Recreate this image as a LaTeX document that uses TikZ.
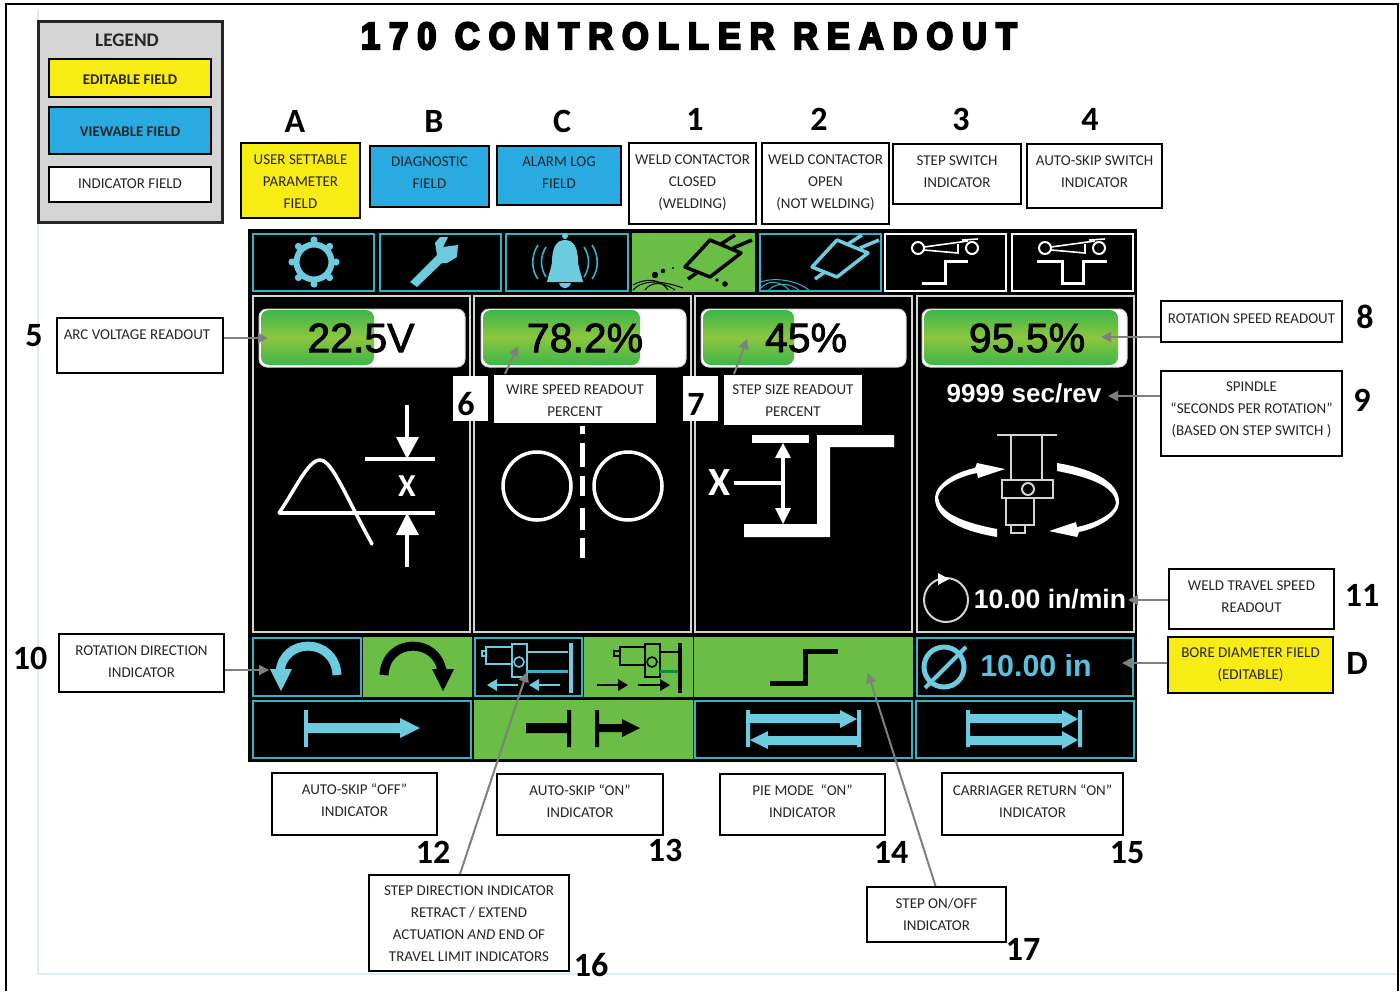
\documentclass[tikz,border=0pt]{standalone}
\usepackage{fontspec}
\setmainfont{Carlito}
\newfontfamily\arialf{Liberation Sans}
\newfontfamily\readf[FakeBold=2]{Liberation Sans}
\newfontfamily\titlef[LetterSpace=24,FakeBold=6,FakeStretch=0.9]{Liberation Sans Bold}
\usetikzlibrary{arrows.meta}
\definecolor{cy}{HTML}{6CCBDF}
\definecolor{cyb}{HTML}{35B3C4}
\definecolor{gr}{HTML}{6ABD45}
\definecolor{grd}{HTML}{3DB54A}
\definecolor{grm}{HTML}{8CC63F}
\definecolor{yel}{HTML}{F7EC13}
\definecolor{blu}{HTML}{29ABE2}
\definecolor{txt}{HTML}{262626}
\definecolor{lgr}{HTML}{D4D4D4}
\definecolor{conc}{HTML}{808080}
\definecolor{lblue}{HTML}{DCEBF7}
\definecolor{dgr}{HTML}{0F8A3C}
\tikzset{
  labelbox/.style={draw=black,line width=1pt,fill=white,inner sep=0pt,text=txt,
    font=\fontsize{7.5}{11}\selectfont},
  numlab/.style={font=\bfseries\fontsize{17}{17}\selectfont,inner sep=0pt,text=black},
  numbox/.style={font=\bfseries\fontsize{17}{17}\selectfont,inner sep=0pt,text=black,fill=white,minimum width=17.5pt,minimum height=22.5pt},
  conn/.style={draw=conc,line width=1pt,-{Triangle[width=5pt,length=5pt]}},
  cellc/.style={draw=cyb,line width=1pt,fill=black},
  cellw/.style={draw=white,line width=1pt,fill=black},
  cellg/.style={fill=gr},
  panelb/.style={draw=lgr,line width=1pt,fill=black},
  track/.style={fill=white,draw=lgr,line width=.5pt,rounded corners=4pt},
  bargr/.style={top color=grd,bottom color=grd,middle color=grm,rounded corners=4pt},
  readout/.style={font=\readf\fontsize{20.5}{20.5}\selectfont,inner sep=0pt,text=black},
  boldread/.style={font=\arialf\bfseries\fontsize{13}{13}\selectfont,inner sep=0pt,text=white},
  wl/.style={draw=white,line width=1.75pt},
  wt/.style={draw=white,line width=1pt},
}
\newcommand\lb[8]{%
  \pgfmathsetlengthmacro\lbw{(#4-#2)*0.5pt}%
  \pgfmathsetlengthmacro\lbh{(#5-#3)*0.5pt}%
  \pgfmathsetlengthmacro\lbdy{((#3+#5)/2-#7)*0.5pt-2.2pt}%
  \node[labelbox,#6,minimum width=\lbw,minimum height=\lbh] (#1) at ({(#2+#4)/2},{(#3+#5)/2})
    {\raisebox{\lbdy}[0pt][0pt]{\begin{tabular}[c]{@{}c@{}}#8\end{tabular}}};}
\newcommand\weld[1]{%
  \draw[#1,line width=1.75pt,line join=round] (837,240) -- (868,253) -- (837,277) -- (812,267) -- cycle;
  \draw[#1,line width=1.75pt] (848,244) -- (862,235) (860,248) -- (879,240) (825,272) -- (815,279);}
\newcommand\swhead[1]{%
  \begin{scope}[shift={(#1,0)}]
  \draw[wt] (918,248) circle[radius=6] (972,248) circle[radius=6];
  \draw[wt,line width=.8pt] (924,247) -- (968,241) (924,250) -- (958,253) -- (958,244) (962,240) -- (978,239);
  \end{scope}}
\begin{document}
\begin{tikzpicture}[x=0.5pt,y=-0.5pt,line cap=butt]
\useasboundingbox (0,0) rectangle (1400,991);
\fill[white] (0,0) rectangle (1400,991);
% page frame
\draw[lblue,line width=.8pt] (38,10) -- (38,974) -- (1397,974);
\draw[black,line width=1pt] (6,991) -- (6,4) -- (1397.5,4) -- (1397.5,991);
% title
\node[inner sep=0pt,font=\titlef\fontsize{19}{19}\selectfont,text=black] (title) at (689,36) {170 CONTROLLER READOUT};
% legend
\node[draw=black!85,line width=1.5pt,fill=lgr,minimum width=92pt,minimum height=100.5pt,inner sep=0pt] (legend) at (130,121.5) {};
\node[inner sep=0pt,font=\bfseries\fontsize{9.6}{10}\selectfont,text=txt] (legtitle) at (127,40) {LEGEND};
\lb{legE}{49}{59}{211}{97}{fill=yel,font=\bfseries\fontsize{7.4}{11}\selectfont,text=black!85}{79}{EDITABLE FIELD}
\lb{legV}{49}{107}{211}{154}{fill=blu,font=\bfseries\fontsize{7.4}{11}\selectfont,text=black!85}{131}{VIEWABLE FIELD}
\lb{legI}{49}{167}{211}{202}{}{183}{INDICATOR FIELD}
% top labels
\lb{boxA}{241}{143}{360}{218}{fill=yel,line width=1.25pt}{181}{USER SETTABLE\\PARAMETER\\FIELD}
\lb{boxB}{370}{146}{489}{207}{fill=blu,line width=1.25pt}{172}{DIAGNOSTIC\\FIELD}
\lb{boxC}{497}{146}{621}{205}{fill=blu,line width=1.25pt}{172}{ALARM LOG\\FIELD}
\lb{box1}{629}{143}{756}{224}{}{181}{WELD CONTACTOR\\CLOSED\\(WELDING)}
\lb{box2}{762}{143}{889}{224}{}{181}{WELD CONTACTOR\\OPEN\\(NOT WELDING)}
\lb{box3}{893}{144}{1021}{204}{}{171}{STEP SWITCH\\INDICATOR}
\lb{box4}{1027}{144}{1162}{208}{}{171}{AUTO-SKIP SWITCH\\INDICATOR}
\node[numlab] (nA) at (295,121) {A};
\node[numlab] (nB) at (434,121) {B};
\node[numlab] (nC) at (562,121) {C};
\node[numlab] (n1) at (695,119) {1};
\node[numlab] (n2) at (819,119) {2};
\node[numlab] (n3) at (961,119) {3};
\node[numlab] (n4) at (1090,119) {4};
% controller panel
\fill[black] (248,229) rectangle (1137,762);
\draw[cellc] (252.5,233.5) rectangle (374,291);
\draw[cellc] (379.5,233.5) rectangle (500.5,291);
\draw[cellc] (506,233.5) rectangle (627.5,291);
\fill[cellg] (631.5,233) rectangle (755,291.5);
\draw[cellc] (759.5,233.5) rectangle (881,291);
\draw[cellw] (885,233.5) rectangle (1006,291);
\draw[cellw] (1012,233.5) rectangle (1133,291);
% gear
\draw[cy,line width=3pt] (314,262) circle[radius=17.5];
\foreach \a in {0,45,...,315} {\fill[cy] (314,262) ++(\a:22) circle[radius=3.6];}
% wrench
\fill[cy,line join=round] (448,237) -- (443,247) -- (458,245) -- (457,257) -- (447,263) -- (442,263) -- (417,287) -- (410,282) -- (437,255) -- (435,243) -- (440,237) -- cycle;
% bell
\fill[cy] (565,236) circle[radius=3];
\fill[cy] (552,262) .. controls (552,248) and (556,240) .. (565,240) .. controls (574,240) and (578,248) .. (578,262) .. controls (579,270) and (582,276) .. (583,282) -- (547,282) .. controls (548,276) and (551,270) .. (552,262) -- cycle;
\fill[cy] (559,283) .. controls (561,290) and (569,290) .. (571,283) -- cycle;
\draw[cyb,line width=.8pt] (538,245) .. controls (531,255) and (531,270) .. (538,279)
  (546,247) .. controls (540,256) and (540,268) .. (546,277)
  (592,245) .. controls (599,255) and (599,270) .. (592,279)
  (584,247) .. controls (590,256) and (590,268) .. (584,277);
% welding closed
\begin{scope}
\clip (632,233) rectangle (755,291);
\begin{scope}[shift={(-127,0)}]\weld{black}\end{scope}
\fill[black] (655,275) circle[radius=3.2] (663,271) circle[radius=2.2] (673,268) circle[radius=1.2] (717,280) circle[radius=1.8] (725,284) circle[radius=2.8];
\draw[black,line width=.5pt] (633,290) .. controls (640,282) and (655,278) .. (683,288)
  (633,285) .. controls (645,278) and (660,278) .. (668,290) (645,290) .. controls (650,283) and (660,280) .. (675,290);
\end{scope}
% welding open
\begin{scope}
\clip (760,234) rectangle (881,291);
\weld{cy}
\draw[cyb,line width=.5pt] (761,282) .. controls (770,278) and (795,278) .. (810,291)
  (761,288) .. controls (768,280) and (780,280) .. (790,291)
  (768,291) .. controls (775,282) and (790,282) .. (800,291);
\end{scope}
% step switch
\swhead{0}
\draw[wl,line width=1.5pt] (922,283) -- (945,283) -- (945,261) -- (968,261);
\swhead{127}
\draw[wl,line width=1.5pt] (1037,261) -- (1062,261) -- (1062,283) -- (1083,283) -- (1083,261) -- (1107,261);
% four readout panels
\draw[panelb] (252.5,296) rectangle (469.5,632);
\draw[panelb] (474,296) rectangle (691,632);
\draw[panelb] (695,296) rectangle (912,632);
\draw[panelb] (917,296) rectangle (1134,632);
\filldraw[track] (259,309) rectangle (465,367);
\shade[bargr] (261,310) rectangle (374,365);
\filldraw[track] (481,309) rectangle (686,367);
\shade[bargr] (483,310) rectangle (640,365);
\filldraw[track] (701,309) rectangle (906,367);
\shade[bargr] (703,310) rectangle (794,365);
\filldraw[track] (922,309) rectangle (1127,367);
\shade[bargr] (924,310) rectangle (1118,365);
\node[readout] (r1) at (361,338) {22.5V};
\node[readout] (r2) at (585,338) {78.2\%};
\node[readout] (r3) at (806,338) {45\%};
\node[readout] (r4) at (1027,338) {95.5\%};
\node[boldread] (sec) at (1024,393) {9999 sec/rev};
\node[boldread,font=\arialf\bfseries\fontsize{13.3}{13.3}\selectfont] (trav) at (1050,599) {10.00 in/min};
% panel 1 graphic
\draw[wl] (365,459) -- (435,459) (279,513) -- (435,513);
\draw[wl,line join=round,line cap=round] (279,513) .. controls (295,490) and (308,460) .. (320,460) .. controls (332,460) and (345,495) .. (372,544);
\draw[wl] (407,405) -- (407,440) (407,567) -- (407,535);
\fill[white] (396,437) -- (419,437) -- (407,459) -- cycle (396,535) -- (419,535) -- (407,513) -- cycle;
\node[inner sep=0pt,text=white,font=\bfseries\fontsize{16}{16}\selectfont] (xa) at (407,486) {X};
% panel 2 graphic
\draw[wl] (537,486) circle[radius=34] (628,486) circle[radius=34];
\draw[white,line width=2.5pt] (582,426) -- (582,434) (582,443) -- (582,467) (582,476) -- (582,496) (582,508) -- (582,530) (582,538) -- (582,558);
% panel 3 graphic
\fill[white] (752,435) rectangle (809,443);
\fill[white] (817,435) -- (894,435) -- (894,447) -- (830,447) -- (830,537) -- (744,537) -- (744,524) -- (817,524) -- cycle;
\draw[wl] (783,455) -- (783,512) (734,483) -- (783,483);
\fill[white] (775,458) -- (791,458) -- (783,443) -- cycle (775,508) -- (791,508) -- (783,524) -- cycle;
\node[inner sep=0pt,text=white,font=\bfseries\fontsize{20}{20}\selectfont] (xb) at (720,483) {X};
% panel 4 graphic
\draw[wt,lgr] (997,435) -- (1057,435);
\draw[wt,lgr] (1011,435) -- (1011,480) (1042,435) -- (1042,480);
\draw[wt,lgr] (1002,480) rectangle (1053,498);
\draw[wt,lgr] (1028,489) circle[radius=6];
\draw[wt,lgr] (1006,498) rectangle (1034,525) (1011,525) rectangle (1025,533);
\fill[white] (997,537) .. controls (955,530) and (934,515) .. (935,497) .. controls (936,484) and (955,472) .. (975,468) -- (977,463) -- (1005,469) -- (978,478) -- (977,473) .. controls (957,477) and (939,487) .. (938,497) .. controls (939,512) and (960,522) .. (997,529) -- cycle;
\begin{scope}[rotate around={180:(1027,500)}]
\fill[white] (997,537) .. controls (955,530) and (934,515) .. (935,497) .. controls (936,484) and (955,472) .. (975,468) -- (977,463) -- (1005,469) -- (978,478) -- (977,473) .. controls (957,477) and (939,487) .. (938,497) .. controls (939,512) and (960,522) .. (997,529) -- cycle;
\end{scope}
\draw[wt,lgr] (946,600) circle[radius=22];
\fill[white] (938,573) -- (938,585) -- (949,579) -- cycle;
% row 1
\draw[cellc] (253,638) rectangle (361,696);
\fill[cellg] (363,637) rectangle (472,697);
\draw[cellc] (475,638) rectangle (582,696);
\fill[cellg] (584,637) rectangle (693,697);
\fill[cellg] (693.5,637) rectangle (912.5,697);
\draw[cellc] (916.5,638) rectangle (1133,696);
% rotation arrows
\draw[cy,line width=4.5pt] (337,675) .. controls (335,637) and (283,637) .. (280,672);
\fill[cy] (270,669) -- (292,669) -- (281,691) -- cycle;
\draw[black,line width=4.5pt] (384,675) .. controls (386,637) and (438,637) .. (442,672);
\fill[black] (432,669) -- (454,669) -- (443,691) -- cycle;
% step direction retract
\draw[cy,line width=.8pt] (486,647) rectangle (512,664) (482,651) rectangle (486,656) (512,644) rectangle (527,677) (519,662) circle[radius=5] (527,652) -- (568,652);
\draw[cyb,line width=1.5pt] (527,671) -- (568,671);
\draw[cy,line width=2pt] (571,643) -- (571,693);
\draw[cy,line width=1.25pt] (518,685) -- (492,685) (560,685) -- (534,685);
\fill[cy] (487,685) -- (497,679) -- (497,691) -- cycle (529,685) -- (539,679) -- (539,691) -- cycle;
% step direction extend
\draw[black,line width=.8pt] (620,647) rectangle (645,665) (614,651) rectangle (620,656) (645,644) rectangle (660,677) (652,662) circle[radius=5] (660,652) -- (680,652);
\draw[dgr,line width=1.5pt] (660,671) -- (680,671);
\draw[black,line width=1.75pt] (680,643) -- (680,693);
\draw[black,line width=1pt] (597,685) -- (622,685) (638,685) -- (664,685);
\fill[black] (628,685) -- (618,679) -- (618,691) -- cycle (670,685) -- (660,679) -- (660,691) -- cycle;
% step on/off
\draw[black,line width=2.5pt] (770,683) -- (805,683) -- (805,651) -- (838,651);
% bore
\draw[cy,line width=2.5pt] (944,667) circle[radius=20];
\draw[cy,line width=2pt] (925,688) -- (966,647);
\node[inner sep=0pt,font=\arialf\bfseries\fontsize{15.2}{15.2}\selectfont,text=cy!70!blu] (bore) at (1036,666) {10.00 in};
% row 2
\draw[cellc] (253,700.5) rectangle (471,758);
\fill[cellg] (474,700) rectangle (692.5,759);
\draw[cellc] (695,700.5) rectangle (912,758);
\draw[cellc] (916,700.5) rectangle (1134,758);
% auto-skip off
\fill[cy] (304,710) rectangle (308,747);
\fill[cy] (308,723) -- (400,723) -- (400,718) -- (420,728) -- (400,738) -- (400,733) -- (308,733) -- cycle;
% auto-skip on
\fill[black] (526,723) rectangle (567,733) (567,710) rectangle (571,747);
\fill[black] (595,710) rectangle (599,747) (599,724) -- (622,724) -- (622,719) -- (640,728) -- (622,737) -- (622,732) -- (599,732) -- cycle;
% pie mode
\fill[cy] (746,710) rectangle (750,747) (857,710) rectangle (861,747);
\fill[cy] (750,714) -- (840,714) -- (840,710) -- (857,719) -- (840,728) -- (840,723) -- (750,723) -- cycle;
\fill[cy] (857,736) -- (768,736) -- (768,731) -- (750,740) -- (768,749) -- (768,745) -- (857,745) -- cycle;
% carriage return
\fill[cy] (966,710) rectangle (970,747) (1078,710) rectangle (1082,747);
\fill[cy] (970,714) -- (1062,714) -- (1062,710) -- (1078,719) -- (1062,728) -- (1062,723) -- (970,723) -- cycle;
\fill[cy] (970,736) -- (1062,736) -- (1062,731) -- (1078,740) -- (1062,749) -- (1062,745) -- (970,745) -- cycle;
% tips of connectors
\coordinate (t5) at (268,338);
\coordinate (t6) at (518,346);
\coordinate (t7) at (747,339);
\coordinate (t8) at (1101,337);
\coordinate (t9) at (1108,396);
\coordinate (t11) at (1128,600);
\coordinate (tD) at (1122,663);
\coordinate (t10) at (269,670);
\coordinate (t16) at (527,672);
\coordinate (t17) at (868,673);
% labels around
\lb{box5}{57}{318}{223}{373}{}{334}{ARC VOLTAGE READOUT\hspace*{3pt}}
\node[numlab] (n5) at (34,336) {5};
\lb{box6}{494}{375}{656}{423}{draw=none}{400}{WIRE SPEED READOUT\\PERCENT}
\node[numbox] (n6) at (470.5,398.5) {\raisebox{-8.25pt}[0pt][0pt]{\makebox[0pt]{\hspace*{-4.5pt}6}}};
\lb{box7}{724}{375}{862}{425}{draw=none}{400}{STEP SIZE READOUT\\PERCENT}
\node[numbox] (n7) at (700.5,398.5) {\raisebox{-8.25pt}[0pt][0pt]{\makebox[0pt]{\hspace*{-4.5pt}7}}};
\lb{box8}{1161}{301}{1342}{342}{}{318}{ROTATION SPEED READOUT}
\node[numlab] (n8) at (1365,317) {8};
\lb{box9}{1161}{371}{1342}{456}{}{408}{SPINDLE\\“SECONDS PER ROTATION”\\(BASED ON STEP SWITCH )}
\node[numlab] (n9) at (1362,400) {9};
\lb{box11}{1169}{569}{1334}{629}{}{596}{WELD TRAVEL SPEED\\READOUT}
\node[numlab] (n11) at (1362,595) {11};
\lb{boxD}{1168}{637}{1333}{693}{fill=yel,line width=1.25pt}{663}{BORE DIAMETER FIELD\\(EDITABLE)}
\node[numlab] (nD) at (1357,663) {D};
\lb{box10}{59}{634}{224}{692}{}{661}{ROTATION DIRECTION\\INDICATOR}
\node[numlab] (n10) at (30,658) {10};
\lb{box12}{272}{773}{437}{835}{}{800}{AUTO-SKIP “OFF”\\INDICATOR}
\node[numlab] (n12) at (433,852) {12};
\lb{box13}{497}{774}{663}{835}{}{801}{AUTO-SKIP “ON”\\INDICATOR}
\node[numlab] (n13) at (665,850) {13};
\lb{box14}{720}{774}{885}{835}{}{801}{PIE MODE\ \ “ON”\\INDICATOR}
\node[numlab] (n14) at (891,852) {14};
\lb{box15}{942}{773}{1123}{835}{}{801}{CARRIAGER RETURN “ON”\\INDICATOR}
\node[numlab] (n15) at (1127,853) {15};
\lb{box16}{369}{875}{569}{971}{}{923}{STEP DIRECTION INDICATOR\\RETRACT / EXTEND\\ACTUATION \textit{AND} END OF\\TRAVEL LIMIT INDICATORS}
\node[numlab] (n16) at (591,965) {16};
\lb{box17}{867}{887}{1006}{942}{}{914}{STEP ON/OFF\\INDICATOR}
\node[numlab] (n17) at (1023,949) {17};
% connectors
\draw[conn] ([xshift=6pt]box6.north west) -- (t6);
\draw[conn] ([xshift=5.5pt]box7.north west) -- (t7);
\draw[conn] (box5.east |- t5) -- (t5);
\draw[conn] (box8.west |- t8) -- (t8);
\draw[conn] (box9.west |- t9) -- (t9);
\draw[conn] ([yshift=-.5pt]box11.west) -- (t11);
\draw[conn] (boxD.west |- tD) -- (tD);
\draw[conn] (box10.east |- t10) -- (t10);
\draw[conn] ([xshift=-4.5pt]box16.north) -- (t16);
\draw[conn] ([xshift=-.5pt]box17.north) -- (t17);
\end{tikzpicture}
\end{document}
